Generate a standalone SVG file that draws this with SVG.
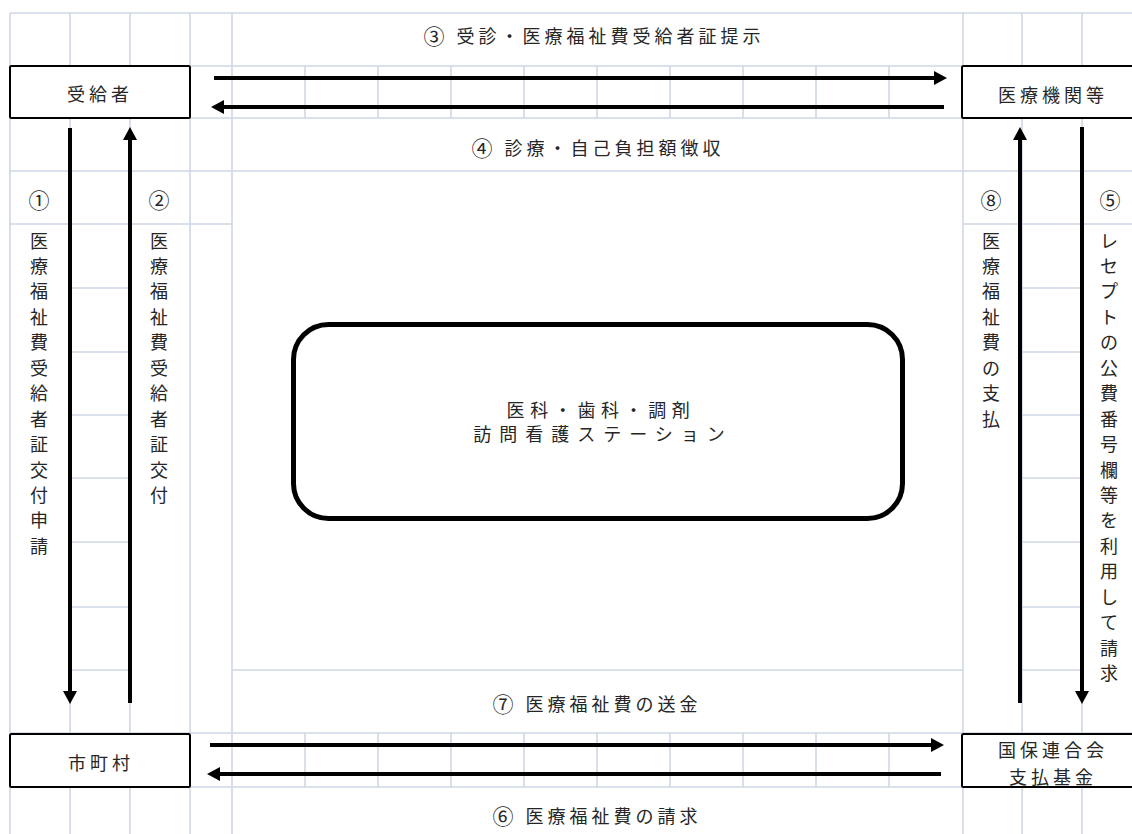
<svg xmlns="http://www.w3.org/2000/svg" width="1132" height="834" viewBox="0 0 1132 834">
<style>
.grid{stroke:#cfd7e5;stroke-width:1.6;fill:none}
.box{fill:#fff;stroke:#000;stroke-width:2}
.txt{font-family:"Noto Sans CJK JP","Noto Sans",sans-serif;font-size:18px;fill:#262626;letter-spacing:4px}
.vt{font-family:"Noto Sans CJK JP","Noto Sans",sans-serif;font-size:18px;fill:#262626;text-anchor:middle;dominant-baseline:central}
.num{font-size:21px}
.arr{stroke:#000;stroke-width:4;fill:none;marker-end:url(#ah)}
</style>
<defs>
<marker id="ah" markerUnits="userSpaceOnUse" markerWidth="14" markerHeight="14" refX="1" refY="7" orient="auto">
<path d="M0,0 L13,7 L0,14 Z" fill="#000"/>
</marker>
</defs>
<rect width="1132" height="834" fill="#fff"/>
<g id="grid" class="grid">
<path d="M10,13V834M70,13V834M130,13V834M190,13V834M232,13V834M963,13V834M1022,13V834M1082,13V834"/>
<path d="M305,66V118M378,66V118M451,66V118M524,66V118M597,66V118M670,66V118M743,66V118M816,66V118M889,66V118"/>
<path d="M305,733V787M378,733V787M451,733V787M524,733V787M597,733V787M670,733V787M743,733V787M816,733V787M889,733V787"/>
<path d="M10,13H1132M10,66H1132M10,118H1132M10,171H1132M10,224H232M963,224H1132M10,733H1132M10,787H1132"/>
<path d="M70,288H130M70,352H130M70,415H130M70,478H130M70,542H130M70,607H130M70,670H130M232,670H963"/>
<path d="M1022,288H1082M1022,352H1082M1022,415H1082M1022,478H1082M1022,542H1082M1022,607H1082M1022,670H1082"/>
</g>
<g id="connectors">
<line class="arr" x1="214" y1="78" x2="935" y2="78"/>
<line class="arr" x1="944" y1="107" x2="223" y2="107"/>
<line class="arr" x1="210" y1="745" x2="932" y2="745"/>
<line class="arr" x1="941" y1="774" x2="219" y2="774"/>
<line class="arr" x1="70" y1="128" x2="70" y2="692"/>
<line class="arr" x1="130" y1="703" x2="130" y2="139"/>
<line class="arr" x1="1020" y1="703" x2="1020" y2="139"/>
<line class="arr" x1="1082" y1="127" x2="1082" y2="692"/>
</g>
<g id="labels">
<text class="txt" x="594" y="35" text-anchor="middle" dominant-baseline="central"><tspan class="num">③</tspan> 受診・医療福祉費受給者証提示</text>
<text class="txt" x="598" y="147" text-anchor="middle" dominant-baseline="central"><tspan class="num">④</tspan> 診療・自己負担額徴収</text>
<text class="txt" x="597" y="703" text-anchor="middle" dominant-baseline="central"><tspan class="num">⑦</tspan> 医療福祉費の送金</text>
<text class="txt" x="597" y="815" text-anchor="middle" dominant-baseline="central"><tspan class="num">⑥</tspan> 医療福祉費の請求</text>
<text class="vt num" x="39" y="199">①</text>
<text class="vt num" x="159" y="199">②</text>
<text class="vt num" x="991" y="199">⑧</text>
<text class="vt num" x="1110" y="199">⑤</text>
<text class="vt"><tspan x="39" y="239.5">医</tspan><tspan x="39" y="264.95">療</tspan><tspan x="39" y="290.4">福</tspan><tspan x="39" y="315.85">祉</tspan><tspan x="39" y="341.3">費</tspan><tspan x="39" y="366.75">受</tspan><tspan x="39" y="392.2">給</tspan><tspan x="39" y="417.65">者</tspan><tspan x="39" y="443.1">証</tspan><tspan x="39" y="468.55">交</tspan><tspan x="39" y="494">付</tspan><tspan x="39" y="519.45">申</tspan><tspan x="39" y="544.9">請</tspan></text>
<text class="vt"><tspan x="159" y="239.5">医</tspan><tspan x="159" y="264.95">療</tspan><tspan x="159" y="290.4">福</tspan><tspan x="159" y="315.85">祉</tspan><tspan x="159" y="341.3">費</tspan><tspan x="159" y="366.75">受</tspan><tspan x="159" y="392.2">給</tspan><tspan x="159" y="417.65">者</tspan><tspan x="159" y="443.1">証</tspan><tspan x="159" y="468.55">交</tspan><tspan x="159" y="494">付</tspan></text>
<text class="vt"><tspan x="991" y="239.5">医</tspan><tspan x="991" y="264.95">療</tspan><tspan x="991" y="290.4">福</tspan><tspan x="991" y="315.85">祉</tspan><tspan x="991" y="341.3">費</tspan><tspan x="991" y="366.75">の</tspan><tspan x="991" y="392.2">支</tspan><tspan x="991" y="417.65">払</tspan></text>
<text class="vt"><tspan x="1109" y="239.5">レ</tspan><tspan x="1109" y="264.95">セ</tspan><tspan x="1109" y="290.4">プ</tspan><tspan x="1109" y="315.85">ト</tspan><tspan x="1109" y="341.3">の</tspan><tspan x="1109" y="366.75">公</tspan><tspan x="1109" y="392.2">費</tspan><tspan x="1109" y="417.65">番</tspan><tspan x="1109" y="443.1">号</tspan><tspan x="1109" y="468.55">欄</tspan><tspan x="1109" y="494">等</tspan><tspan x="1109" y="519.45">を</tspan><tspan x="1109" y="544.9">利</tspan><tspan x="1109" y="570.35">用</tspan><tspan x="1109" y="595.8">し</tspan><tspan x="1109" y="621.25">て</tspan><tspan x="1109" y="646.7">請</tspan><tspan x="1109" y="672.15">求</tspan></text>
</g>
<g id="node-jukyusha">
<rect class="box" x="10" y="66" width="180" height="52" rx="1.5"/>
<text class="txt" x="100" y="93" text-anchor="middle" dominant-baseline="central">受給者</text>
</g>
<g id="node-iryokikan">
<rect class="box" x="962" y="66" width="180" height="52" rx="1.5"/>
<text class="txt" x="1053" y="94" text-anchor="middle" dominant-baseline="central">医療機関等</text>
</g>
<g id="node-shichoson">
<rect class="box" x="10" y="734" width="180" height="53" rx="1.5"/>
<text class="txt" x="101" y="762" text-anchor="middle" dominant-baseline="central">市町村</text>
</g>
<g id="node-kokuho">
<rect class="box" x="962" y="734" width="180" height="53" rx="1.5"/>
<text class="txt" x="1053" y="749" text-anchor="middle" dominant-baseline="central">国保連合会</text>
<text class="txt" x="1053" y="776" text-anchor="middle" dominant-baseline="central">支払基金</text>
</g>
<g id="node-station">
<rect x="293.5" y="324.5" width="609" height="194" rx="35" fill="#fff" stroke="#000" stroke-width="5"/>
<text class="txt" x="601" y="409" text-anchor="middle" dominant-baseline="central" style="letter-spacing:5.6px">医科・歯科・調剤</text>
<text class="txt" x="603" y="433" text-anchor="middle" dominant-baseline="central" style="letter-spacing:8px">訪問看護ステーション</text>
</g>
</svg>
